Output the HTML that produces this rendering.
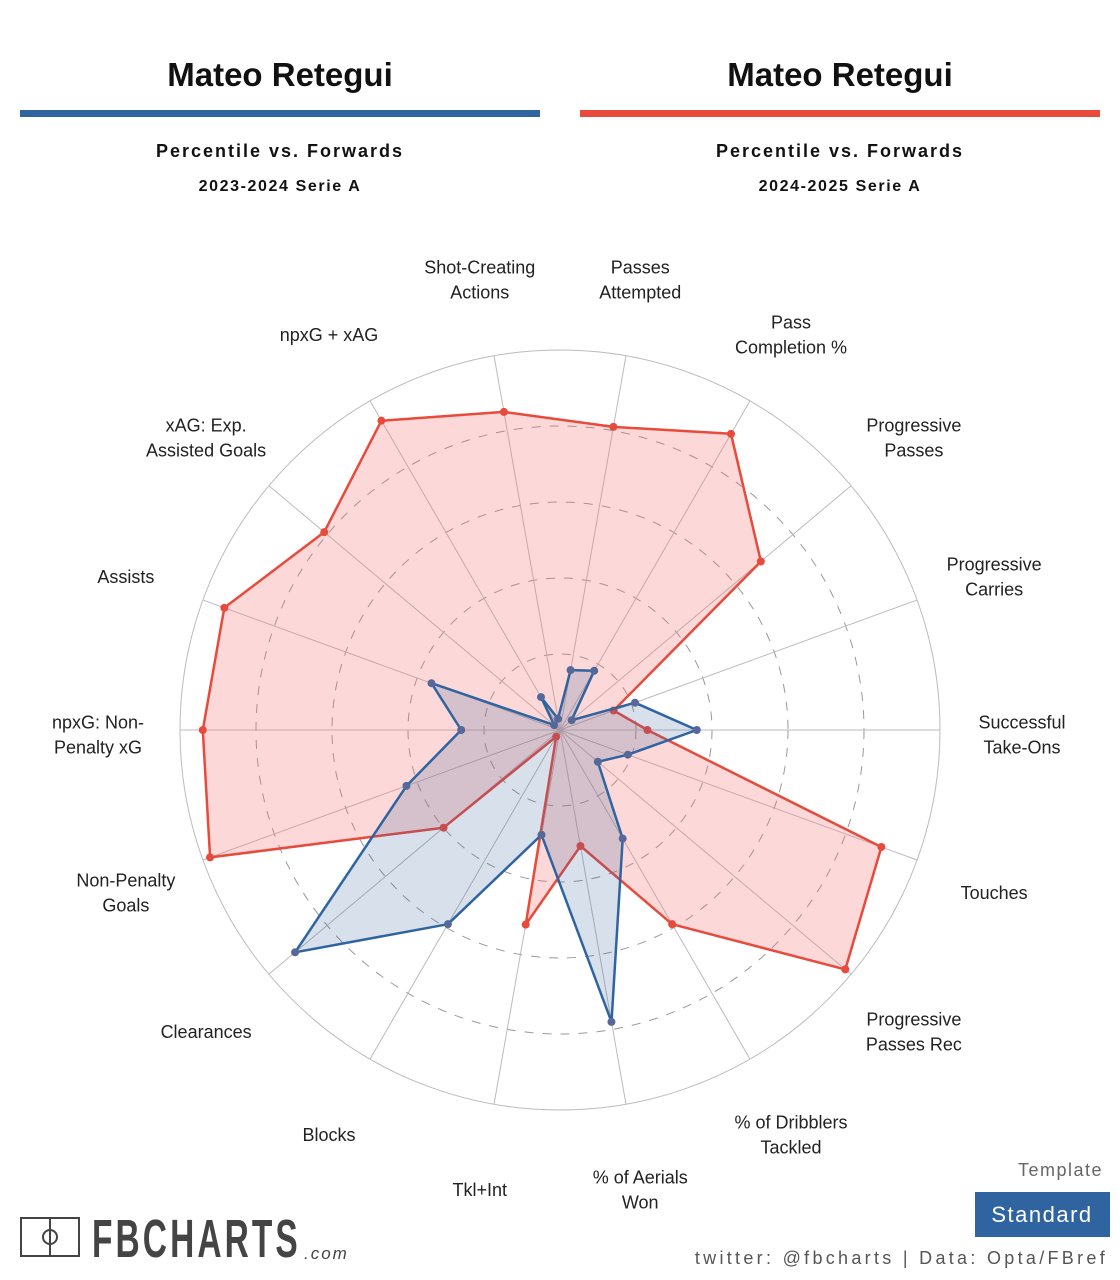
<!DOCTYPE html>
<html><head><meta charset="utf-8"><style>
body{margin:0;background:#fff;font-family:"Liberation Sans",sans-serif;}
#wrap{position:relative;width:1120px;height:1280px;overflow:hidden;}
</style></head><body>
<div id="wrap">
<svg id="svg" width="1120" height="1280" xmlns="http://www.w3.org/2000/svg">
<g>
<text x="280" y="86" text-anchor="middle" font-size="33" font-weight="bold" fill="#111">Mateo Retegui</text>
<rect x="20" y="110" width="520" height="7" fill="#2f64a0"/>
<text x="280" y="157" text-anchor="middle" font-size="18" font-weight="bold" letter-spacing="2" fill="#111">Percentile vs. Forwards</text>
<text x="280" y="191" text-anchor="middle" font-size="16" font-weight="bold" letter-spacing="1.6" fill="#111">2023-2024 Serie A</text>
</g>
<g>
<text x="840" y="86" text-anchor="middle" font-size="33" font-weight="bold" fill="#111">Mateo Retegui</text>
<rect x="580" y="110" width="520" height="7" fill="#e84a3c"/>
<text x="840" y="157" text-anchor="middle" font-size="18" font-weight="bold" letter-spacing="2" fill="#111">Percentile vs. Forwards</text>
<text x="840" y="191" text-anchor="middle" font-size="16" font-weight="bold" letter-spacing="1.6" fill="#111">2024-2025 Serie A</text>
</g>
<g id="grid"></g>
<g id="series"></g>
<g id="labels"></g>
<g>
<rect x="21" y="1218" width="58" height="38" fill="none" stroke="#444" stroke-width="2"/>
<line x1="50" y1="1218" x2="50" y2="1256" stroke="#444" stroke-width="2"/>
<circle cx="50" cy="1237" r="7" fill="none" stroke="#444" stroke-width="2"/>
<text x="92" y="1257" font-size="54" font-weight="bold" fill="#444" letter-spacing="5" transform="translate(92 0) scale(0.62 1) translate(-92 0)">FBCHARTS</text>
<text x="304" y="1259" font-size="17" fill="#444" letter-spacing="2" font-style="italic">.com</text>
<text x="1103" y="1176" text-anchor="end" font-size="18" fill="#666" letter-spacing="1.5">Template</text>
<rect x="975" y="1192" width="135" height="45" fill="#2f64a0"/>
<text x="1042" y="1222" text-anchor="middle" font-size="22" fill="#fff" letter-spacing="1.5">Standard</text>
<text x="1108" y="1264" text-anchor="end" font-size="18" fill="#555" letter-spacing="3.3">twitter: @fbcharts | Data: Opta/FBref</text>
</g>
</svg>
</div>
<script>
const categories=[["Passes","Attempted"],["Pass","Completion %"],["Progressive","Passes"],["Progressive","Carries"],["Successful","Take-Ons"],["Touches"],["Progressive","Passes Rec"],["% of Dribblers","Tackled"],["% of Aerials","Won"],["Tkl+Int"],["Blocks"],["Clearances"],["Non-Penalty","Goals"],["npxG: Non-","Penalty xG"],["Assists"],["xAG: Exp.","Assisted Goals"],["npxG + xAG"],["Shot-Creating","Actions"]];
const season2324=[16,18,4,21,36,19,13,33,78,28,59,91,43,26,36,2,10,3];
const season2425=[81,90,69,15,23,90,98,59,31,52,2,40,98,94,94,81,94,85];
const ringTicks=[20,40,60,80,100];
const CX=560,CY=730,R=380,NS="http://www.w3.org/2000/svg";
function ang(i){return (10+20*i)*Math.PI/180;}
function px(i,v){return CX+Math.sin(ang(i))*R*v/100;}
function py(i,v){return CY-Math.cos(ang(i))*R*v/100;}
function mk(tag,attrs,parent){const e=document.createElementNS(NS,tag);for(const k in attrs)e.setAttribute(k,attrs[k]);parent.appendChild(e);return e;}
const grid=document.getElementById('grid'),ser=document.getElementById('series'),lab=document.getElementById('labels');
ringTicks.forEach(t=>{const c=mk('circle',{cx:CX,cy:CY,r:R*t/100,fill:'none',stroke:t===100?'#bbb':'#999','stroke-width':1,'stroke-dasharray':t===100?'none':'9 9'},grid);

});
categories.forEach((c,i)=>{const l=mk('line',{x1:CX,y1:CY,x2:px(i,100),y2:py(i,100),stroke:'#bbb','stroke-width':1},grid);


const lx=CX+Math.sin(ang(i))*462,ly=CY+5-Math.cos(ang(i))*462;
const t=mk('text',{x:lx,'text-anchor':'middle','font-size':18,fill:'#222'},lab);


const y0=ly+6-(c.length-1)*12.5;
c.forEach((s,k)=>{const ts=mk('tspan',{x:lx,y:y0+k*25},t);ts.textContent=s;});});
function draw(vals,stroke,fill,dot,name){
const pts=vals.map((v,i)=>px(i,v).toFixed(1)+','+py(i,v).toFixed(1)).join(' ');
const p=mk('polygon',{points:pts,fill:fill,stroke:stroke,'stroke-width':2.5,'stroke-linejoin':'round'},ser);


vals.forEach((v,i)=>{const c=mk('circle',{cx:px(i,v),cy:py(i,v),r:4,fill:dot},ser);

});}
draw(season2425,'#e84a3c','rgba(245,120,115,0.28)','#e84a3c','series-2024-2025');
draw(season2324,'#2f64a0','rgba(60,100,160,0.2)','#56689a','series-2023-2024');
</script>
</body></html>
